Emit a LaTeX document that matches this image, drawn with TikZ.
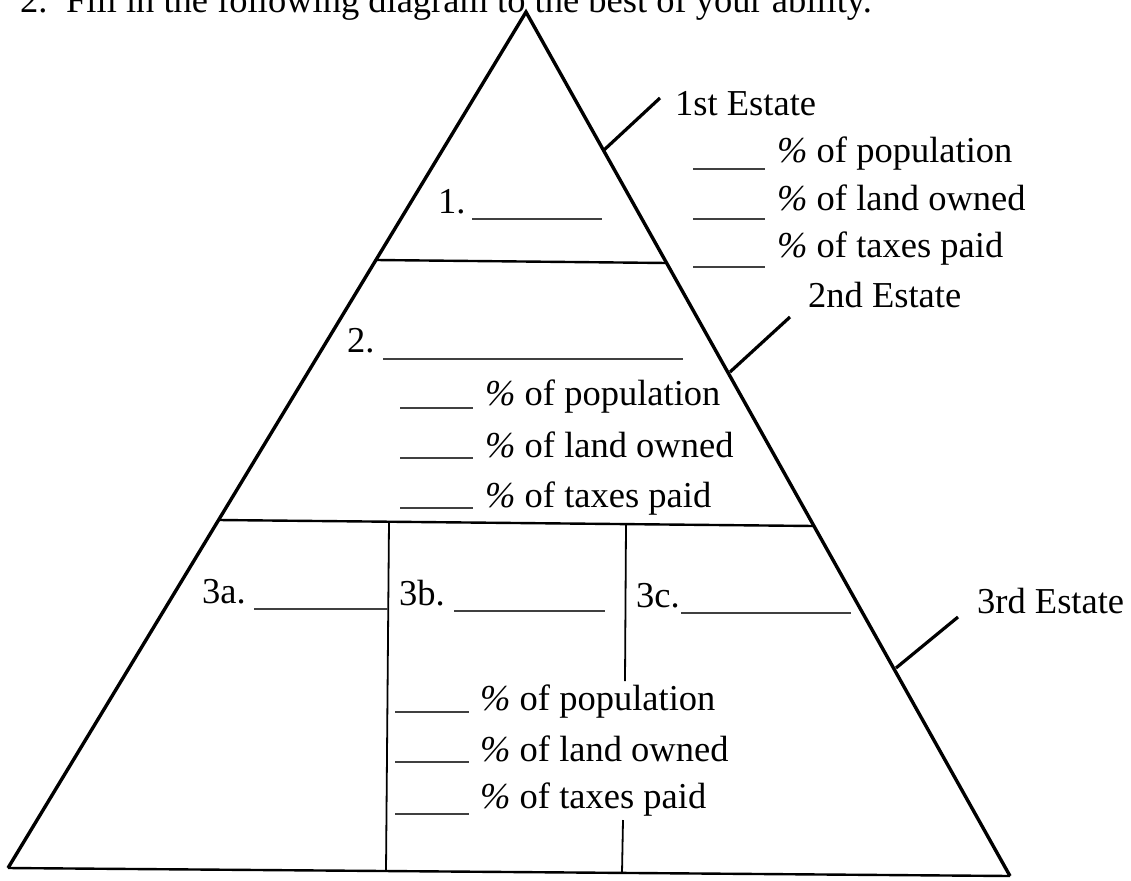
\documentclass[tikz,border=0pt]{standalone}
\usepackage{fontspec}
\setmainfont{Liberation Serif}
\newcommand{\pct}{\textit{\%}}
\begin{document}
\begin{tikzpicture}[x=1pt,y=-1pt,
  lbl/.style={anchor=base west, inner sep=0pt, font=\fontsize{36.5}{40}\selectfont},
  ttl/.style={anchor=base west, inner sep=0pt, font=\fontsize{36.5}{40}\selectfont},
  outline/.style={line width=3.4pt, line join=miter},
  divider/.style={line width=2.4pt},
  inner/.style={line width=1.8pt},
  blank/.style={line width=1.1pt, black!75},
  tick/.style={line width=3.2pt}]
\useasboundingbox (0,0) rectangle (1131,880);
\begin{scope}
\clip (0,0) rectangle (1131,880);
% title (cut at the top)
\node[ttl] (t0) at (20,13) {2.};
\node[ttl] (t1) at (66,13) {Fill in the following diagram to the best of your ability.};
\end{scope}
% pyramid
\coordinate (A) at (526,12);
\coordinate (BL) at (8,868);
\coordinate (BR) at (1010,876);
\draw[outline] (BL) -- (A) -- (BR);
\draw[divider] (BL) -- (BR);
% dividers
\coordinate (L1a) at (376,260); \coordinate (L1b) at (667,263);
\coordinate (L2a) at (218.6,520); \coordinate (L2b) at (814,526);
\draw[divider] (L1a) -- (L1b);
\draw[divider] (L2a) -- (L2b);
\coordinate (V1a) at (389,521); \coordinate (V1b) at (386,871);
\draw[inner] (V1a) -- (V1b);
\coordinate (V2a) at (626,524); \coordinate (V2b) at (625,681);
\coordinate (V2c) at (623,820); \coordinate (V2d) at (622,873);
\draw[inner] (V2a) -- (V2b);
\draw[inner] (V2c) -- (V2d);
% estate labels and ticks
\node[lbl] (e1) at (675,115) {1st Estate};
\node[lbl] (e2) at (808,307) {2nd Estate};
\node[lbl] (e3) at (977,613) {3rd Estate};
\coordinate (k1a) at (604,150); \coordinate (k1b) at (660,98);
\coordinate (k2a) at (730,372); \coordinate (k2b) at (790,317);
\coordinate (k3a) at (896,668); \coordinate (k3b) at (958,617);
\draw[tick] (k1a) -- (k1b);
\draw[tick] (k2a) -- (k2b);
\draw[tick] (k3a) -- (k3b);
% block 1 (right of the top)
\node[lbl] (p1) at (777,162) {\pct{} of population};
\node[lbl] (l1) at (777,210) {\pct{} of land owned};
\node[lbl] (x1) at (777,257) {\pct{} of taxes paid};
\draw[blank] (693,169) -- (765,169);
\draw[blank] (693,219) -- (765,219);
\draw[blank] (693,267) -- (765,267);
\node[lbl] (n1) at (438,213) {1.};
\draw[blank] (472,219) -- (602,219);
% block 2
\node[lbl] (n2) at (347,352) {2.};
\draw[blank] (383,359) -- (683,359);
\node[lbl] (p2) at (485,405) {\pct{} of population};
\node[lbl] (l2) at (485,457) {\pct{} of land owned};
\node[lbl] (x2) at (485,507) {\pct{} of taxes paid};
\draw[blank] (400,408) -- (473,408);
\draw[blank] (400,458) -- (473,458);
\draw[blank] (400,508) -- (473,508);
% block 3
\node[lbl] (n3a) at (202,603) {3a.};
\draw[blank] (254,609) -- (388,609);
\node[lbl] (n3b) at (399,605) {3b.};
\draw[blank] (454,611) -- (605,611);
\node[lbl] (n3c) at (636,607) {3c.};
\draw[blank] (681,613) -- (851,613);
\node[lbl] (p3) at (480,710) {\pct{} of population};
\node[lbl] (l3) at (480,761) {\pct{} of land owned};
\node[lbl] (x3) at (480,808) {\pct{} of taxes paid};
\draw[blank] (395,712) -- (469,712);
\draw[blank] (395,762) -- (469,762);
\draw[blank] (395,814) -- (469,814);
\end{tikzpicture}
\end{document}
